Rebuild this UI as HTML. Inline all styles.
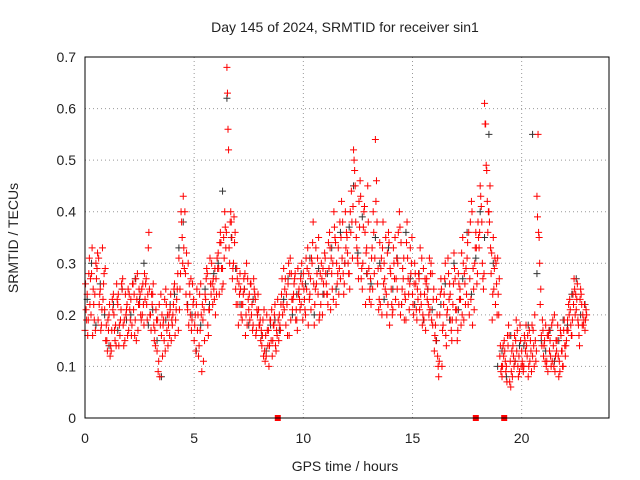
<!DOCTYPE html>
<html><head><meta charset="utf-8"><style>
body{margin:0;background:#fff}
svg{display:block;font-family:"Liberation Sans",sans-serif}
</style></head><body>
<svg id="chart" width="640" height="480">
<rect width="640" height="480" fill="#fff"/>
<text x="345" y="32" font-size="14" text-anchor="middle" fill="#222">Day 145 of 2024, SRMTID for receiver sin1</text>
<text x="345" y="471" font-size="14" text-anchor="middle" fill="#222">GPS time / hours</text>
<text transform="translate(18,238) rotate(-90)" font-size="14" text-anchor="middle" fill="#222">SRMTID / TECUs</text>
<g id="grid"></g>
<g id="ticks"></g>
<g id="black"></g>
<g id="red"></g>
<rect x="85" y="57" width="524" height="361" fill="none" stroke="#000" stroke-width="1"/>
</svg>
<script>
const xTicks=[0,5,10,15,20];
const yTicks=[0,0.1,0.2,0.3,0.4,0.5,0.6,0.7];
const yTickLabels=["0","0.1","0.2","0.3","0.4","0.5","0.6","0.7"];
const redStep=0.1;
const redAStart=0;
const redA=[.17,.24,.31,.28,.22,.30,.19,.25,.33,.21,
.15,.20,.13,.24,.18,.22,.16,.25,.19,.21,
.17,.23,.26,.19,.28,.22,.25,.18,.27,.33,
.20,.24,.17,.13,.22,.16,.19,.25,.14,.21,
.18,.26,.23,.31,.40,.43,.28,.21,.24,.19,
.15,.22,.12,.26,.19,.24,.28,.21,.30,.25,
.27,.32,.36,.29,.40,.68,.33,.38,.30,.25,
.22,.28,.19,.25,.30,.21,.26,.18,.23,.20,
.18,.14,.21,.12,.17,.19,.15,.22,.16,.20,
.24,.29,.18,.26,.31,.21,.27,.19,.25,.22,
.28,.20,.33,.24,.30,.18,.26,.35,.22,.29,
.31,.24,.36,.28,.40,.22,.33,.27,.38,.30,
.35,.28,.44,.52,.38,.30,.46,.25,.41,.33,
.29,.22,.40,.54,.26,.34,.20,.30,.24,.36,
.28,.21,.35,.25,.40,.22,.31,.19,.27,.33,
.24,.30,.19,.27,.22,.29,.17,.25,.21,.28,
.13,.23,.08,.27,.18,.30,.21,.26,.15,.32,
.19,.28,.23,.35,.26,.31,.20,.42,.25,.36,
.38,.45,.30,.61,.48,.40,.28,.35,.22,.31,
.12,.08,.15,.10,.18,.06,.14,.11,.17,.09,
.13,.10,.18,.08,.15,.12,.20,.43,.35,.16,
.12,.18,.09,.15,.11,.20,.13,.08,.16,.10,
.12,.19,.23,.16,.27,.21,.18,.25,.20,.17];
const redBStart=0.05;
const redB=[.21,.19,.27,.16,.24,.29,.22,.18,.26,.15,
.19,.12,.23,.17,.26,.14,.21,.18,.24,.16,
.21,.18,.24,.15,.22,.20,.26,.23,.19,.25,
.24,.18,.21,.09,.18,.12,.23,.17,.20,.15,
.22,.19,.28,.25,.35,.29,.32,.18,.27,.22,
.20,.17,.24,.09,.21,.27,.16,.26,.22,.29,
.31,.24,.29,.35,.33,.56,.38,.27,.34,.29,
.26,.20,.24,.16,.27,.19,.22,.25,.17,.21,
.15,.19,.11,.17,.14,.21,.18,.13,.19,.17,
.20,.25,.22,.16,.28,.24,.19,.29,.21,.26,
.23,.25,.28,.21,.38,.25,.31,.20,.27,.24,
.26,.34,.21,.30,.35,.26,.29,.42,.24,.33,
.30,.40,.31,.48,.33,.42,.27,.37,.22,.45,
.25,.33,.28,.46,.21,.29,.38,.25,.32,.18,
.22,.30,.27,.36,.20,.29,.24,.38,.21,.30,
.20,.26,.23,.33,.18,.24,.27,.20,.30,.23,
.18,.12,.20,.10,.24,.14,.28,.19,.22,.27,
.15,.23,.32,.19,.29,.22,.38,.18,.30,.26,
.33,.41,.25,.57,.36,.45,.19,.29,.26,.20,
.09,.14,.11,.16,.07,.13,.10,.19,.08,.15,
.10,.15,.12,.17,.09,.14,.11,.55,.22,.19,
.15,.11,.17,.10,.14,.12,.18,.09,.13,.19,
.15,.22,.18,.24,.20,.26,.14,.22,.19,.21];
const redCStart=0.025;
const redC=[.26,.16,.22,.33,.19,.27,.31,.17,.23,.29,
.13,.22,.17,.20,.14,.24,.19,.27,.15,.22,
.24,.16,.21,.27,.17,.24,.20,.28,.22,.36,
.17,.26,.14,.19,.08,.20,.15,.22,.18,.24,
.20,.16,.25,.21,.38,.33,.24,.30,.20,.26,
.18,.25,.14,.20,.11,.23,.18,.31,.26,.23,
.24,.29,.34,.26,.37,.63,.30,.35,.39,.22,
.18,.25,.22,.28,.18,.24,.20,.27,.16,.24,
.19,.16,.13,.20,.10,.15,.18,.14,.23,.18,
.27,.21,.24,.30,.19,.23,.28,.17,.23,.30,
.25,.31,.18,.27,.34,.22,.28,.19,.30,.26,
.28,.22,.33,.25,.37,.30,.24,.35,.28,.40,
.32,.25,.38,.50,.35,.27,.43,.30,.36,.28,
.23,.31,.36,.42,.29,.22,.33,.27,.20,.34,
.25,.33,.23,.30,.37,.25,.19,.34,.24,.28,
.22,.28,.25,.21,.31,.19,.26,.22,.28,.18,
.16,.20,.11,.25,.22,.16,.31,.24,.19,.29,
.21,.26,.18,.30,.22,.34,.27,.40,.21,.33,
.35,.43,.27,.57,.42,.38,.32,.25,.30,.24,
.14,.10,.13,.07,.16,.09,.12,.15,.10,.18,
.11,.16,.14,.10,.13,.17,.15,.39,.30,.14,
.14,.10,.16,.12,.19,.09,.15,.11,.13,.17,
.14,.17,.21,.19,.25,.23,.16,.24,.18,.19];
const redDStart=0.075;
const redD=[.19,.28,.20,.25,.17,.32,.24,.21,.28,.18,
.17,.14,.21,.15,.23,.18,.26,.14,.20,.25,
.19,.26,.16,.23,.25,.19,.22,.26,.24,.20,
.22,.15,.19,.11,.24,.18,.13,.20,.16,.19,
.25,.21,.17,.28,.30,.40,.22,.26,.17,.23,
.13,.20,.17,.22,.15,.29,.21,.24,.27,.20,
.29,.34,.25,.31,.36,.52,.40,.29,.36,.27,
.24,.22,.27,.20,.23,.26,.17,.24,.21,.18,
.17,.12,.16,.14,.19,.12,.20,.17,.15,.22,
.22,.27,.16,.28,.23,.26,.21,.24,.27,.19,
.21,.29,.23,.31,.26,.33,.24,.28,.20,.32,
.24,.29,.31,.23,.34,.28,.38,.31,.26,.36,
.28,.36,.41,.45,.31,.37,.29,.40,.32,.38,
.27,.25,.31,.38,.23,.31,.26,.35,.22,.29,
.20,.27,.31,.22,.34,.27,.23,.31,.26,.35,
.26,.21,.28,.24,.20,.27,.23,.31,.19,.25,
.15,.10,.24,.17,.27,.20,.23,.17,.26,.21,
.17,.25,.20,.28,.24,.36,.23,.29,.33,.28,
.36,.38,.28,.49,.40,.33,.24,.31,.20,.27,
.10,.12,.09,.14,.11,.08,.16,.13,.12,.10,
.09,.13,.16,.11,.18,.10,.13,.36,.25,.17,
.11,.16,.13,.18,.10,.15,.12,.17,.10,.14,
.17,.20,.16,.22,.24,.19,.23,.18,.22,.20];
const blackStart=0.1, blackStep=0.2;
const black=[.23,.30,.18,.26,.20,.14,.22,.17,.25,.19,
.20,.27,.23,.30,.18,.21,.15,.08,.19,.22,
.24,.33,.38,.22,.20,.13,.18,.25,.22,.28,
.30,.44,.62,.35,.29,.22,.25,.18,.23,.20,
.16,.13,.18,.19,.17,.23,.27,.20,.24,.28,
.26,.31,.20,.29,.24,.28,.33,.25,.36,.30,
.37,.45,.32,.39,.28,.26,.35,.30,.23,.33,
.25,.31,.22,.36,.27,.22,.28,.19,.25,.21,
.15,.22,.26,.19,.30,.21,.27,.36,.24,.31,
.40,.35,.55,.30,.10,.13,.08,.16,.11,.14,
.14,.18,.55,.28,.15,.13,.17,.11,.15,.19,
.18,.24,.27,.20,.22];
const zeroTimes=[8.83,17.9,19.2];

const X0=85,X1=609,Y0=418,Y1=57,XMAX=24,YMAX=0.7;
const sx=t=>X0+(X1-X0)*t/XMAX;
const sy=v=>Y0-(Y0-Y1)*v/YMAX;
const NS="http://www.w3.org/2000/svg";
function mk(tag,attrs,parent){const e=document.createElementNS(NS,tag);for(const k in attrs)e.setAttribute(k,attrs[k]);parent.appendChild(e);return e;}
const grid=document.getElementById('grid'),ticks=document.getElementById('ticks');
yTicks.forEach((v,i)=>{
  const y=sy(v);
  if(i>0&&i<yTicks.length-1){const l=mk('line',{x1:X0,x2:X1,y1:y,y2:y,stroke:'#999','stroke-dasharray':'1,3'},grid);
  
  }
  const t=mk('text',{x:X0-9,y:y+5,'font-size':14,'text-anchor':'end',fill:'#222'},ticks);
  t.textContent=yTickLabels[i];
  
  
});
xTicks.forEach(v=>{
  const x=sx(v);
  if(v>0){const l=mk('line',{x1:x,x2:x,y1:Y0,y2:Y1,stroke:'#999','stroke-dasharray':'1,3'},grid);
  
  }
  const t=mk('text',{x:x,y:Y0+25,'font-size':14,'text-anchor':'middle',fill:'#222'},ticks);
  t.textContent=String(v);
  
  
});
function plus(g,t,v,color){
  const x=sx(t),y=sy(v);
  const p=mk('path',{d:`M${x-3.5},${y}h7M${x},${y-3.5}v7`,stroke:color,'stroke-width':1,fill:'none'},g);
  
  
}
const gb=document.getElementById('black'),gr=document.getElementById('red');
black.forEach((v,i)=>plus(gb,blackStart+i*blackStep,v,'#333'));
redA.forEach((v,i)=>plus(gr,redAStart+i*redStep,v,'#f00'));
redB.forEach((v,i)=>plus(gr,redBStart+i*redStep,v,'#f00'));
redC.forEach((v,i)=>plus(gr,redCStart+i*redStep,v,'#f00'));
redD.forEach((v,i)=>plus(gr,redDStart+i*redStep,v,'#f00'));
zeroTimes.forEach(t=>{
  const r=mk('rect',{x:sx(t)-3,y:Y0-3,width:6,height:6,fill:'#f00'},gr);
  
  
});
</script>
</body></html>
